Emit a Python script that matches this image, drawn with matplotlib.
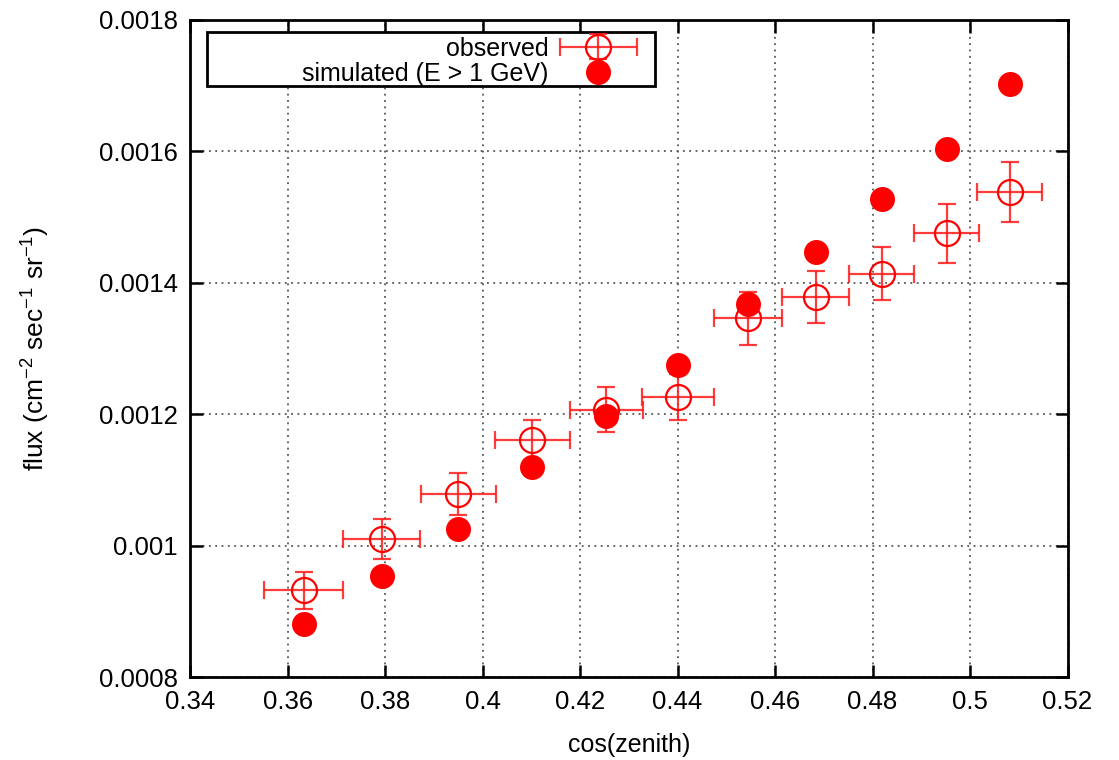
import numpy as np
import matplotlib
matplotlib.use('Agg')
import matplotlib.pyplot as plt
from matplotlib.patches import Rectangle
from matplotlib.legend_handler import HandlerErrorbar
from matplotlib.container import ErrorbarContainer

plt.rcParams['font.family'] = ['Liberation Sans', 'DejaVu Sans']
plt.rcParams['mathtext.fontset'] = 'custom'
plt.rcParams['mathtext.rm'] = 'Liberation Sans'
plt.rcParams['mathtext.it'] = 'Liberation Sans:italic'
plt.rcParams['mathtext.bf'] = 'Liberation Sans:bold'

# cos(zenith) bin centres and half widths
cos_zenith = [0.3633, 0.3793, 0.3950, 0.4102, 0.4254, 0.4400,
              0.4544, 0.4683, 0.4819, 0.4952, 0.5081]
cos_halfwidth = [0.0081, 0.0079, 0.0077, 0.0077, 0.0074, 0.0074,
                 0.0070, 0.0069, 0.0067, 0.0066, 0.0066]

# measured flux with statistical errors
flux_obs = [0.000932, 0.001010, 0.001078, 0.001160, 0.001207, 0.001226,
            0.001346, 0.001378, 0.001414, 0.001475, 0.001538]
flux_obs_err = [0.000028, 0.000030, 0.000032, 0.000031, 0.000034, 0.000035,
                0.000040, 0.000040, 0.000041, 0.000045, 0.000046]

# simulated flux above 1 GeV
flux_sim = [0.000881, 0.000954, 0.001025, 0.001119, 0.001198, 0.001275,
            0.001367, 0.001446, 0.001527, 0.001603, 0.001702]

xticks = [0.34, 0.36, 0.38, 0.4, 0.42, 0.44, 0.46, 0.48, 0.5, 0.52]
xticklabels = ['0.34', '0.36', '0.38', '0.4', '0.42', '0.44', '0.46', '0.48', '0.5', '0.52']
yticks = [0.0008, 0.001, 0.0012, 0.0014, 0.0016, 0.0018]
yticklabels = ['0.0008', '0.001', '0.0012', '0.0014', '0.0016', '0.0018']

fig = plt.figure(figsize=(11.19, 7.6), dpi=100)
ax = fig.add_axes([0.170, 0.109, 0.784, 0.865])

red = '#ff0000'
obs = ax.errorbar(cos_zenith, flux_obs, xerr=cos_halfwidth, yerr=flux_obs_err,
                  fmt='o', mfc='none', mec=red, ms=18, mew=1.6,
                  ecolor=(1, 0.1, 0.1, 0.85), elinewidth=1.6, capsize=6.5, capthick=1.6,
                  label='observed', zorder=3)
sim, = ax.plot(cos_zenith, flux_sim, 'o', color=red, ms=18, mew=0,
               label='simulated (E > 1 GeV)', zorder=4)

ax.set_xlim(0.34, 0.52)
ax.set_ylim(0.0008, 0.0018)
ax.set_xticks(xticks)
ax.set_xticklabels(xticklabels)
ax.set_yticks(yticks)
ax.set_yticklabels(yticklabels)
ax.tick_params(direction='in', length=9, width=1.8, top=True, right=True,
               labelsize=18.5, pad=9, colors='black')

ax.grid(True, color='#555555', linestyle=(0, (1, 2.5)), linewidth=1.3)
ax.set_axisbelow(True)
for sp in ax.spines.values():
    sp.set_linewidth(2.0)

ax.set_xlabel('cos(zenith)', fontsize=18, labelpad=14)
ax.set_ylabel(r'flux (cm$^{-2}$ sec$^{-1}$ sr$^{-1}$)', fontsize=19, labelpad=34)

# key: right-aligned text, sample on the right, inside a plain black box
leg = ax.legend(handles=[obs, sim], loc='upper right', bbox_to_anchor=(0.518, 0.982),
                markerfirst=False, frameon=False, fontsize=18, borderaxespad=0,
                handlelength=3.3, handletextpad=0.35, labelspacing=0.05,
                borderpad=0.2,
                handler_map={ErrorbarContainer: HandlerErrorbar(xerr_size=1.55, yerr_size=0.5)})
ax.add_patch(Rectangle((0.019, 0.899), 0.511, 0.083, transform=ax.transAxes,
                       fill=True, facecolor='white', edgecolor='black',
                       linewidth=2.0, zorder=5))
leg.set_zorder(6)

fig.savefig('out.png', dpi=100)
